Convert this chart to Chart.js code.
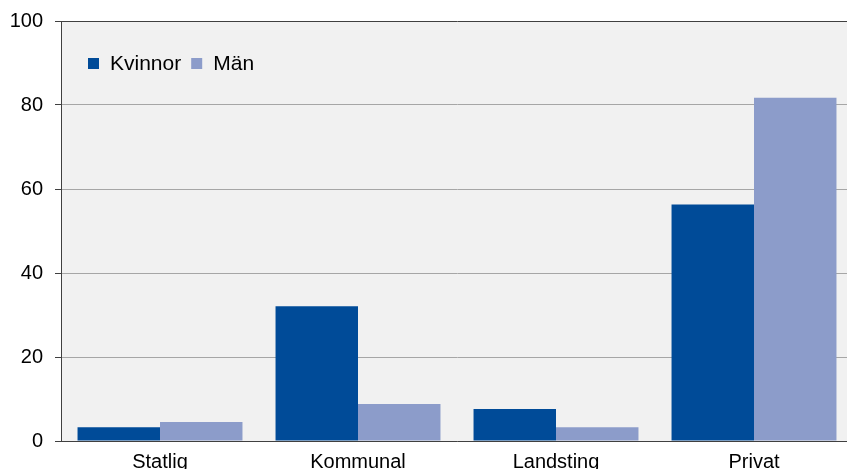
<!DOCTYPE html>
<html>
<head>
<meta charset="utf-8">
<script src="https://cdn.jsdelivr.net/npm/chart.js"></script>
<style>
html, body { margin: 0; padding: 0; overflow: hidden; background: #fff; }
#wrap { position: relative; width: 853px; height: 469px; }
</style>
</head>
<body>
<div id="wrap"><canvas id="chart"></canvas></div>
<script>
var sectors = ['Statlig', 'Kommunal', 'Landsting', 'Privat'];
var kvinnor = [3.3, 32.1, 7.6, 56.3];
var man = [4.5, 8.8, 3.3, 81.7];
var yTicks = [0, 20, 40, 60, 80, 100];

var font = 'Liberation Sans, Arial, sans-serif';

// grey plot background
var plotBg = {
    id: 'plotBg',
    beforeDraw: function (chart) {
        var a = chart.chartArea, c = chart.ctx;
        c.save();
        c.fillStyle = '#f1f1f1';
        c.fillRect(a.left, a.top, a.right - a.left, a.bottom - a.top);
        c.restore();
    }
};

// legend inside the plot, top left
var innerLegend = {
    id: 'innerLegend',
    afterDraw: function (chart) {
        var a = chart.chartArea, c = chart.ctx;
        var x = a.left + 27, y = a.top + 42.5;
        c.save();
        c.font = '21px ' + font;
        c.textBaseline = 'middle';
        chart.data.datasets.forEach(function (ds) {
            c.fillStyle = ds.backgroundColor;
            c.fillRect(x, y - 5.5, 11, 11);
            c.fillStyle = '#000';
            c.fillText(ds.label, x + 22, y + 1);
            x += 22 + c.measureText(ds.label).width + 10;
        });
        c.restore();
    }
};

new Chart(document.getElementById('chart'), {
    type: 'bar',
    data: {
        labels: sectors,
        datasets: [
            { label: 'Kvinnor', data: kvinnor, backgroundColor: '#004b98' },
            { label: 'Män', data: man, backgroundColor: '#8c9cca' }
        ]
    },
    plugins: [plotBg, innerLegend],
    options: {
        responsive: true,
        maintainAspectRatio: false,
        animation: false,
        layout: { padding: { top: 21, right: 0, left: 0, bottom: 0 } },
        datasets: { bar: { categoryPercentage: 0.833, barPercentage: 1 } },
        plugins: { legend: { display: false }, tooltip: { enabled: false } },
        scales: {
            x: {
                grid: { display: false },
                border: { color: '#404040', width: 1 },
                ticks: { color: '#000', padding: 1, font: { family: font, size: 20 } },
                afterFit: function (s) { s.height = 28; s.paddingLeft = 0; s.paddingRight = 0; }
            },
            y: {
                min: 0,
                max: 100,
                afterBuildTicks: function (s) {
                    s.ticks = yTicks.map(function (v) { return { value: v }; });
                },
                grid: {
                    color: function (ctx) { return ctx.tick && ctx.tick.value === 100 ? '#404040' : '#a6a6a6'; },
                    tickColor: '#404040',
                    tickLength: 6
                },
                border: { color: '#404040', width: 1 },
                ticks: { color: '#000', padding: 12, font: { family: font, size: 20 } },
                afterFit: function (s) { s.width = 61; s.paddingTop = 0; s.paddingBottom = 0; }
            }
        }
    }
});
</script>
</body>
</html>
